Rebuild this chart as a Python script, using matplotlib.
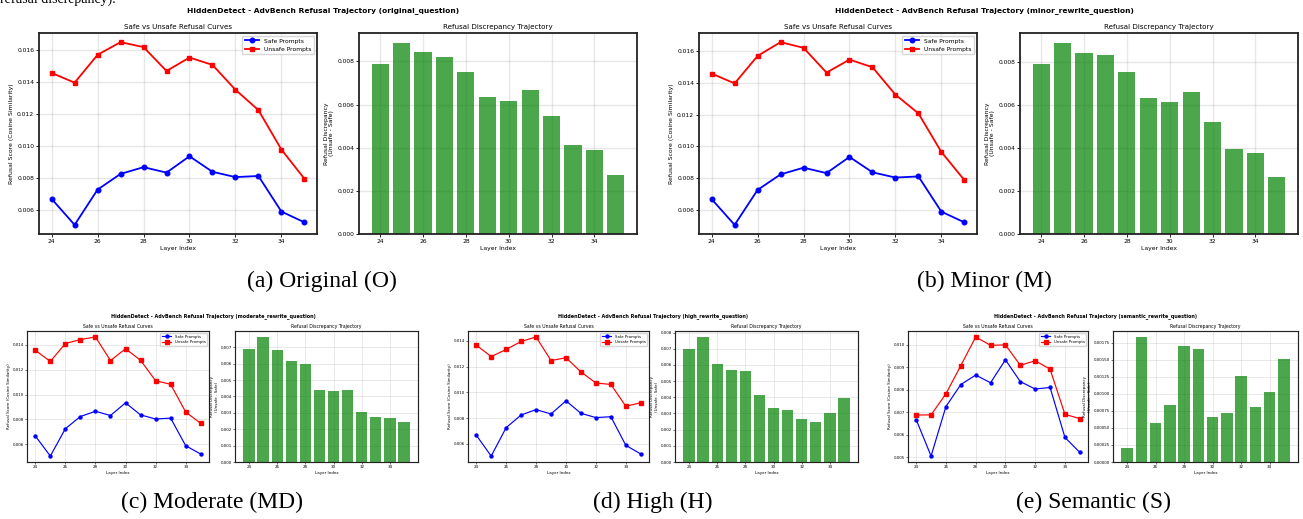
import matplotlib.pyplot as plt
import numpy as np

W, H = 1303, 519

layers = np.arange(24, 36)
safe = [0.00668, 0.00506, 0.00726, 0.00824, 0.00866, 0.00832,
        0.00934, 0.00837, 0.00804, 0.00811, 0.00589, 0.00522]
unsafe_original = [0.01454, 0.01393, 0.01567, 0.01646, 0.01615, 0.01466,
                   0.01550, 0.01504, 0.01349, 0.01222, 0.00976, 0.00794]
unsafe_minor = [0.01459, 0.01397, 0.01570, 0.01657, 0.01621, 0.01465,
                0.01547, 0.01499, 0.01326, 0.01208, 0.00965, 0.00788]
unsafe_moderate = [0.01357, 0.01267, 0.01411, 0.01443, 0.01464, 0.01274,
                   0.01369, 0.01276, 0.01112, 0.01083, 0.00860, 0.00769]
unsafe_high = [0.01366, 0.01277, 0.01332, 0.01394, 0.01429, 0.01246,
               0.01268, 0.01158, 0.01072, 0.01061, 0.00892, 0.00919]
unsafe_semantic = [0.006885, 0.00689, 0.00783, 0.009083, 0.010356, 0.009982,
                   0.010003, 0.009096, 0.009298, 0.008924, 0.006914, 0.006726]

variants = ['original_question', 'minor_rewrite_question', 'moderate_rewrite_question',
            'high_rewrite_question', 'semantic_rewrite_question']
captions = ['(a) Original (O)', '(b) Minor (M)', '(c) Moderate (MD)',
            '(d) High (H)', '(e) Semantic (S)']


def rect(l, r, t, b):
    return [l / W, 1 - b / H, (r - l) / W, (b - t) / H]


def style_axes(ax, s):
    ax.grid(True, alpha=0.3, linewidth=1.0 * s)
    ax.tick_params(labelsize=4.35 * s, length=2 * s, width=0.6 * s, pad=1.5 * s)
    for sp in ax.spines.values():
        sp.set_linewidth(1.3 * s)
        sp.set_color('#222222')
    ax.set_axisbelow(True)


def draw_panel(fig, variant, unsafe, line_lr, bar_lr, top, bottom, title_xy, s):
    # left: refusal curves
    ax1 = fig.add_axes(rect(line_lr[0], line_lr[1], top, bottom))
    ax1.plot(layers, safe, 'b-o', linewidth=1.3 * s, markersize=3.3 * s, label='Safe Prompts')
    ax1.plot(layers, unsafe, 'r-s', linewidth=1.3 * s, markersize=3.3 * s, label='Unsafe Prompts')
    ax1.set_title('Safe vs Unsafe Refusal Curves', fontsize=5.1 * s, pad=3 * s)
    ax1.set_xlabel('Layer Index', fontsize=4.4 * s, labelpad=1.5 * s)
    ax1.set_ylabel('Refusal Score (Cosine Similarity)', fontsize=4.4 * s, labelpad=2 * s)
    ax1.set_xticks(np.arange(24, 36, 2))
    ax1.legend(loc='upper right', fontsize=4.3 * s, handlelength=2.5, borderpad=0.4)
    style_axes(ax1, s)

    # right: discrepancy bars
    diff = np.array(unsafe) - np.array(safe)
    ax2 = fig.add_axes(rect(bar_lr[0], bar_lr[1], top, bottom))
    ax2.bar(layers, diff, color='green', alpha=0.7)
    ax2.axhline(0, color='black', linestyle='--', linewidth=1.0 * s, alpha=0.5)
    ax2.set_title('Refusal Discrepancy Trajectory', fontsize=5.1 * s, pad=3 * s)
    ax2.set_xlabel('Layer Index', fontsize=4.4 * s, labelpad=1.5 * s)
    ax2.set_ylabel('Refusal Discrepancy\n(Unsafe - Safe)', fontsize=4.4 * s, labelpad=2 * s)
    ax2.set_xticks(np.arange(24, 36, 2))
    style_axes(ax2, s)

    fig.text(title_xy[0] / W, 1 - title_xy[1] / H,
             f'HiddenDetect - AdvBench Refusal Trajectory ({variant})',
             fontsize=5.4 * s, fontweight='bold', ha='center', va='center')


fig = plt.figure(figsize=(W / 100, H / 100), dpi=100)

serif = ['Liberation Serif', 'DejaVu Serif']

# clipped text from the paper line above the figure
fig.text(0.0, 1 - 3 / H, 'refusal discrepancy).', fontsize=10, family=serif,
         ha='left', va='baseline')

# top row
draw_panel(fig, variants[0], unsafe_original, (39, 317), (359, 637), 33, 234, (323, 11), 1.0)
draw_panel(fig, variants[1], unsafe_minor, (699, 977), (1020, 1298), 33, 234, (984, 11), 1.0)

# bottom row
sb = 0.655
draw_panel(fig, variants[2], unsafe_moderate, (27, 209), (235, 418), 331, 462, (213, 316), sb)
draw_panel(fig, variants[3], unsafe_high, (468, 649), (675, 858), 331, 462, (653, 316), sb)
draw_panel(fig, variants[4], unsafe_semantic, (908, 1088), (1113, 1298), 331, 462, (1095, 316), sb)

cap_pos = [(322, 281), (984, 281), (212, 502), (653, 502), (1093, 502)]
for cap, (cx, cy) in zip(captions, cap_pos):
    fig.text(cx / W, 1 - cy / H, cap, fontsize=17, family=serif, ha='center', va='center')

fig.savefig('out.png', dpi=100)
